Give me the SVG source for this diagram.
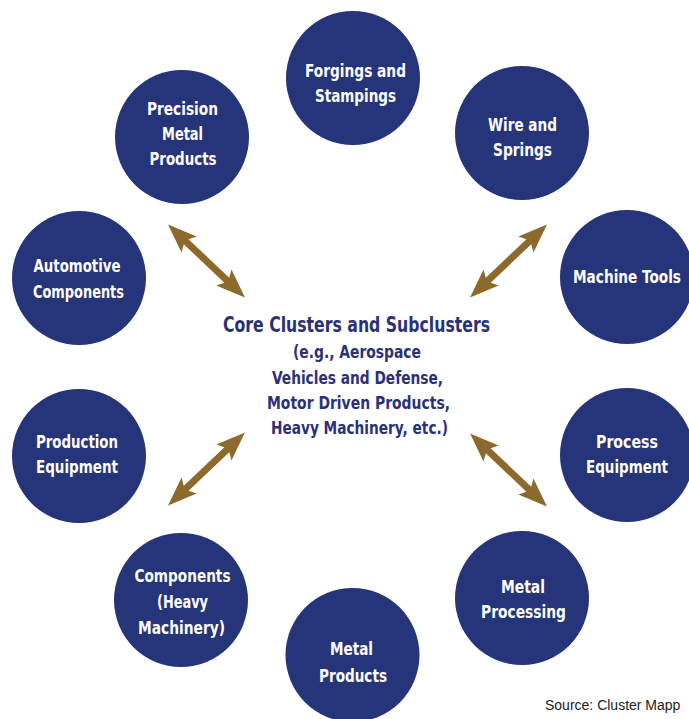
<svg xmlns="http://www.w3.org/2000/svg" xmlns:xlink="http://www.w3.org/1999/xlink" width="689" height="719" viewBox="0 0 689 719">
<style>
.node circle{fill:#26347a;}
.node text{fill:#ffffff;font-family:"DejaVu Sans Condensed","DejaVu Sans",sans-serif;font-stretch:condensed;font-weight:bold;font-size:18px;text-anchor:middle;}
.core text{fill:#2a3179;font-family:"DejaVu Sans Condensed","DejaVu Sans",sans-serif;font-stretch:condensed;font-weight:bold;text-anchor:middle;}
.arrow{fill:#8b6a2c;}
.src{fill:#222222;font-family:"Liberation Sans",Arial,sans-serif;font-size:14px;}
</style>
<defs>
<path id="dbl" d="M-53,0 L-24,-11 L-28,-3.5 L28,-3.5 L24,-11 L53,0 L24,11 L28,3.5 L-28,3.5 L-24,11 Z"/>
</defs>
<rect width="689" height="719" fill="#ffffff"/>
<g id="connectors">
<use xlink:href="#dbl" class="arrow" transform="translate(206.5,261) rotate(43.5)"/>
<use xlink:href="#dbl" class="arrow" transform="translate(508.5,261) rotate(-43.5)"/>
<use xlink:href="#dbl" class="arrow" transform="translate(206.5,469) rotate(-43.5)"/>
<use xlink:href="#dbl" class="arrow" transform="translate(508.5,470) rotate(43.5)"/>
</g>
<g id="core" class="core">
<text x="356.5" y="332" font-size="20.5" textLength="267" lengthAdjust="spacingAndGlyphs">Core Clusters and Subclusters</text>
<text x="357" y="358" font-size="18" textLength="128" lengthAdjust="spacingAndGlyphs">(e.g., Aerospace</text>
<text x="357.5" y="384" font-size="18" textLength="171" lengthAdjust="spacingAndGlyphs">Vehicles and Defense,</text>
<text x="358.5" y="409" font-size="18" textLength="183" lengthAdjust="spacingAndGlyphs">Motor Driven Products,</text>
<text x="359.5" y="434" font-size="18" textLength="177" lengthAdjust="spacingAndGlyphs">Heavy Machinery, etc.)</text>
</g>
<g id="forgings" class="node">
<circle cx="353" cy="78" r="67"/>
<text x="355.5" y="77" textLength="101" lengthAdjust="spacingAndGlyphs">Forgings and</text>
<text x="355.5" y="102" textLength="81" lengthAdjust="spacingAndGlyphs">Stampings</text>
</g>
<g id="precision" class="node">
<circle cx="182" cy="137" r="67"/>
<text x="182.5" y="115" textLength="71" lengthAdjust="spacingAndGlyphs">Precision</text>
<text x="182.5" y="140" textLength="41" lengthAdjust="spacingAndGlyphs">Metal</text>
<text x="183" y="165" textLength="67" lengthAdjust="spacingAndGlyphs">Products</text>
</g>
<g id="wire" class="node">
<circle cx="522" cy="133" r="67"/>
<text x="522.5" y="131" textLength="69" lengthAdjust="spacingAndGlyphs">Wire and</text>
<text x="522.5" y="156" textLength="59" lengthAdjust="spacingAndGlyphs">Springs</text>
</g>
<g id="automotive" class="node">
<circle cx="79" cy="278" r="67"/>
<text x="77" y="272" textLength="87" lengthAdjust="spacingAndGlyphs">Automotive</text>
<text x="78.5" y="298" textLength="91" lengthAdjust="spacingAndGlyphs">Components</text>
</g>
<g id="machine" class="node">
<circle cx="627" cy="277" r="67"/>
<text x="627" y="283" textLength="108" lengthAdjust="spacingAndGlyphs">Machine Tools</text>
</g>
<g id="production" class="node">
<circle cx="79" cy="456" r="67"/>
<text x="77" y="448" textLength="82" lengthAdjust="spacingAndGlyphs">Production</text>
<text x="77" y="473" textLength="82" lengthAdjust="spacingAndGlyphs">Equipment</text>
</g>
<g id="process" class="node">
<circle cx="627" cy="455" r="67"/>
<text x="627" y="448" textLength="62" lengthAdjust="spacingAndGlyphs">Process</text>
<text x="627" y="473" textLength="82" lengthAdjust="spacingAndGlyphs">Equipment</text>
</g>
<g id="components" class="node">
<circle cx="181" cy="600" r="67"/>
<text x="182.5" y="582" textLength="96" lengthAdjust="spacingAndGlyphs">Components</text>
<text x="182.5" y="608" textLength="51" lengthAdjust="spacingAndGlyphs">(Heavy</text>
<text x="181.5" y="634" textLength="87" lengthAdjust="spacingAndGlyphs">Machinery)</text>
</g>
<g id="metalprocessing" class="node">
<circle cx="522" cy="598" r="67"/>
<text x="523" y="593" textLength="44" lengthAdjust="spacingAndGlyphs">Metal</text>
<text x="523.5" y="618" textLength="85" lengthAdjust="spacingAndGlyphs">Processing</text>
</g>
<g id="metalproducts" class="node">
<circle cx="352.5" cy="655" r="67"/>
<text x="351.5" y="655" textLength="43" lengthAdjust="spacingAndGlyphs">Metal</text>
<text x="353" y="682" textLength="68" lengthAdjust="spacingAndGlyphs">Products</text>
</g>
<text class="src" x="545" y="710">Source: Cluster Mapp</text>
</svg>
